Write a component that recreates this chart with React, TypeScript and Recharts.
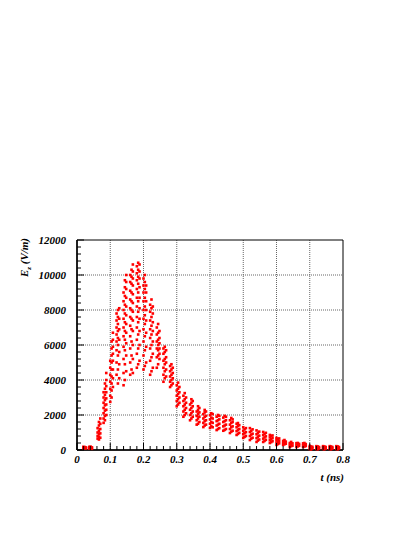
import { ScatterChart, Scatter, XAxis, YAxis, CartesianGrid, ReferenceArea, Label } from 'recharts';

// onset, t < 0.1 ns
const onsetTimes = [0.019, 0.023, 0.027, 0.037, 0.041, 0.045, 0.062, 0.066, 0.070, 0.080, 0.084, 0.088];
const onsetFields = [
	[80, 180], [100, 170], [90, 150], [80, 180], [110, 190], [70, 150],
	[650, 800, 1000, 1250],
	[600, 750, 900, 1100, 1400, 1600],
	[700, 950, 1200, 1500, 1800],
	[1550, 1800, 2100, 2400, 2700, 3000, 3300],
	[1700, 1950, 2250, 2550, 2850, 3150, 3500, 3800],
	[2000, 2300, 2600, 2950, 3300, 3650, 4000, 4400],
];

// main pulse
const peakTimes = [
	0.100, 0.104, 0.108, 0.119, 0.123, 0.127, 0.140, 0.144, 0.148,
	0.160, 0.164, 0.168, 0.180, 0.184, 0.188, 0.200, 0.204, 0.208,
	0.220, 0.224, 0.228, 0.240, 0.244, 0.248, 0.260, 0.264, 0.268,
];
const peakFields = [
	[2750, 3100, 3500, 3900, 4300, 4700, 5100],
	[3000, 3400, 3800, 4200, 4600, 5000, 5400, 5800, 6200],
	[3600, 4100, 4600, 5100, 5500, 5900, 6300, 6700],
	[4300, 5000, 5700, 6200, 6600, 7000, 7400, 7800],
	[3800, 4600, 5400, 6000, 6400, 6800, 7200, 7600, 8000],
	[4100, 4900, 5600, 6300, 6900, 7500, 8100],
	[3700, 4400, 5200, 5900, 6500, 7000, 7500, 8000, 8500, 9000],
	[4000, 4900, 5700, 6300, 6800, 7300, 7800, 8300, 8800, 9300, 9700],
	[4500, 5400, 6100, 6700, 7200, 7700, 8200, 8700, 9200, 9600, 10000],
	[4300, 5000, 5800, 6500, 7100, 7600, 8100, 8600, 9100, 9600, 10000],
	[4600, 5400, 6200, 6900, 7500, 8000, 8500, 9000, 9500, 9900, 10300],
	[4400, 5200, 6000, 6800, 7400, 7900, 8400, 8900, 9400, 9800, 10200, 10600],
	[4700, 5500, 6300, 7000, 7600, 8200, 8700, 9200, 9700, 10100, 10500],
	[4900, 5800, 6600, 7300, 7900, 8500, 9000, 9500, 9900, 10300, 10700],
	[5100, 6000, 6800, 7500, 8100, 8700, 9300, 9800, 10200, 10600],
	[4600, 5400, 6200, 6900, 7500, 8000, 8500, 9000, 9400, 9800],
	[4800, 5700, 6500, 7200, 7700, 8200, 8700, 9200, 9600, 10000],
	[5000, 5900, 6700, 7400, 8000, 8500, 9000, 9400],
	[4300, 5100, 5800, 6400, 6900, 7400, 7900, 8300],
	[4500, 5300, 6000, 6600, 7100, 7600, 8100, 8600],
	[4700, 5500, 6200, 6800, 7300, 7800, 8200],
	[4700, 5300, 5800, 6200, 6600, 7000],
	[4900, 5400, 5700, 6000, 6300, 6700, 7200],
	[5200, 5500, 5800, 6100, 6400, 6800],
	[3900, 4300, 4700, 5100, 5500, 5800],
	[4100, 4500, 4900, 5200, 5600, 5900],
	[4200, 4600, 5000, 5300, 5700],
];

// decay
const decayTimes = [
	0.280, 0.284, 0.288, 0.300, 0.304, 0.308, 0.320, 0.324, 0.328,
	0.340, 0.344, 0.348, 0.360, 0.364, 0.368, 0.380, 0.384, 0.388,
	0.400, 0.404, 0.408, 0.420, 0.424, 0.428, 0.440, 0.444, 0.448,
	0.460, 0.464, 0.468, 0.480, 0.484, 0.488,
];
const decayFields = [
	[3600, 3900, 4200, 4500, 4800], [3700, 4000, 4300, 4600, 4900], [3800, 4100, 4400, 4700],
	[2500, 2800, 3100, 3400, 3700], [2600, 2900, 3200, 3500, 3850], [2700, 3000, 3300, 3600],
	[1900, 2200, 2500, 2800, 3100], [2000, 2300, 2600, 2900, 3250], [2100, 2400, 2700, 3000],
	[1700, 2000, 2300, 2600], [1800, 2100, 2400, 2700, 2900], [1900, 2200, 2500, 2800],
	[1450, 1700, 1950, 2200], [1500, 1800, 2050, 2300, 2500], [1600, 1900, 2150, 2400],
	[1310, 1550, 1800, 2050], [1400, 1650, 1900, 2150, 2290], [1450, 1700, 1950, 2200],
	[1260, 1500, 1750, 2000], [1350, 1600, 1850, 2100], [1300, 1550, 1800, 2050],
	[1140, 1400, 1650, 1900], [1200, 1450, 1700, 2000], [1250, 1500, 1750, 1950],
	[1100, 1350, 1600, 1850], [1150, 1400, 1650, 1950], [1200, 1450, 1700, 1900],
	[970, 1200, 1450, 1700], [1050, 1300, 1550, 1830], [1100, 1350, 1600, 1750],
	[860, 1080, 1300, 1500], [920, 1150, 1380, 1540], [980, 1200, 1420],
];

// tail
const tailTimes = [
	0.500, 0.504, 0.508, 0.520, 0.524, 0.528, 0.540, 0.544, 0.548,
	0.560, 0.564, 0.568, 0.580, 0.584, 0.588, 0.600, 0.604, 0.608,
	0.620, 0.624, 0.628, 0.640, 0.644, 0.648, 0.660, 0.664, 0.668,
	0.680, 0.684, 0.688, 0.700, 0.704, 0.708, 0.720, 0.724, 0.728,
	0.740, 0.744, 0.748, 0.760, 0.764, 0.768, 0.780, 0.784, 0.788,
];
const tailFields = [
	[690, 900, 1100, 1300], [750, 960, 1180], [800, 1020, 1250],
	[570, 800, 1030, 1250], [650, 880, 1100], [700, 930, 1180],
	[460, 680, 900, 1120], [540, 760, 980], [600, 820, 1050],
	[460, 650, 850, 1030], [520, 720, 920], [580, 780, 980],
	[400, 560, 720, 860], [450, 620, 800], [500, 680, 830],
	[290, 430, 570, 690], [340, 480, 630], [380, 520, 660],
	[290, 400, 520], [330, 450, 570], [360, 480],
	[170, 290, 400], [220, 340, 460], [250, 380],
	[170, 280, 390], [210, 320, 400], [240, 350],
	[170, 270, 380], [200, 310, 400], [230, 340],
	[60, 150, 230], [30, 120, 200], [90, 180],
	[60, 150, 220], [40, 130, 200], [80, 170],
	[60, 150, 220], [40, 130, 200], [80, 170],
	[60, 150, 220], [40, 130, 200], [80, 170],
	[60, 150, 220], [40, 130, 200], [80, 170],
];

const xTicks = [
	0, 0.02, 0.04, 0.06, 0.08, 0.1, 0.12, 0.14, 0.16, 0.18, 0.2, 0.22, 0.24, 0.26, 0.28,
	0.3, 0.32, 0.34, 0.36, 0.38, 0.4, 0.42, 0.44, 0.46, 0.48, 0.5, 0.52, 0.54, 0.56, 0.58,
	0.6, 0.62, 0.64, 0.66, 0.68, 0.7, 0.72, 0.74, 0.76, 0.78, 0.8,
];
const yTicks = [
	0, 400, 800, 1200, 1600, 2000, 2400, 2800, 3200, 3600, 4000, 4400, 4800, 5200, 5600, 6000,
	6400, 6800, 7200, 7600, 8000, 8400, 8800, 9200, 9600, 10000, 10400, 10800, 11200, 11600, 12000,
];
const xGrid = [0.1, 0.2, 0.3, 0.4, 0.5, 0.6, 0.7];
const yGrid = [2000, 4000, 6000, 8000, 10000];

function toPoints(times: number[], fields: number[][]) {
	const pts: { t: number; e: number }[] = [];
	times.forEach((t, i) => fields[i].forEach((e) => pts.push({ t, e })));
	return pts;
}

const points = [
	...toPoints(onsetTimes, onsetFields),
	...toPoints(peakTimes, peakFields),
	...toPoints(decayTimes, decayFields),
	...toPoints(tailTimes, tailFields),
];

const labelFont = {
	fontFamily: '"Liberation Serif", "Times New Roman", serif',
	fontWeight: 'bold',
	fontStyle: 'italic',
	fontSize: 11,
	fill: '#000',
};

// ticks drawn inward like the original, labels only on major ones
const XTick = (props: any) => {
	const { x, y, payload } = props;
	const v = payload.value;
	const major = Math.round(v * 100) % 10 === 0;
	return (
		<g>
			<line x1={x} x2={x} y1={y} y2={y - (major ? 7 : 4)} stroke="#000" />
			{major && (
				<text x={x} y={y + 13} textAnchor="middle" style={labelFont}>
					{v === 0 ? '0' : v.toFixed(1)}
				</text>
			)}
		</g>
	);
};

const YTick = (props: any) => {
	const { x, y, payload } = props;
	const v = payload.value;
	const major = v % 2000 === 0;
	return (
		<g>
			<line x1={x} x2={x + (major ? 7 : 4)} y1={y} y2={y} stroke="#000" />
			{major && (
				<text x={x - 11} y={y + 4} textAnchor="end" style={labelFont}>
					{v}
				</text>
			)}
		</g>
	);
};

const YTitle = (props: any) => {
	const { viewBox } = props;
	const x = viewBox.x + 28;
	const y = viewBox.y - 2;
	return (
		<text x={x} y={y} textAnchor="end" transform={`rotate(-90, ${x}, ${y})`} style={labelFont}>
			E
			<tspan dy={3} fontSize={7}>z</tspan>
			<tspan dy={-3}> (V/m)</tspan>
		</text>
	);
};

const XTitle = (props: any) => {
	const { viewBox } = props;
	return (
		<text x={viewBox.x + viewBox.width + 1} y={viewBox.y + 31} textAnchor="end" style={labelFont}>
			t (ns)
		</text>
	);
};

const Dot = (props: any) => {
	const { cx, cy } = props;
	return <rect x={cx - 1.3} y={cy - 1.3} width={2.6} height={2.6} fill="#ff0000" />;
};

export default function App() {
	return (
		<div style={{ position: 'absolute', left: 0, top: 0, width: 415, height: 537, background: '#fff' }}>
			<ScatterChart width={415} height={537} margin={{ top: 240, right: 72, bottom: 0, left: 0 }}>
				<CartesianGrid
					stroke="#666"
					strokeDasharray="1 1"
					verticalValues={xGrid}
					horizontalValues={yGrid}
				/>
				<XAxis
					type="number"
					dataKey="t"
					domain={[0, 0.8]}
					ticks={xTicks}
					interval={0}
					height={87}
					tickSize={0}
					tickMargin={0}
					tickLine={false}
					tick={<XTick />}
					axisLine={{ stroke: '#000', strokeWidth: 1.5 }}
				>
					<Label content={<XTitle />} />
				</XAxis>
				<YAxis
					type="number"
					dataKey="e"
					domain={[0, 12000]}
					ticks={yTicks}
					interval={0}
					width={77}
					tickSize={0}
					tickMargin={0}
					tickLine={false}
					tick={<YTick />}
					axisLine={{ stroke: '#000', strokeWidth: 1.5 }}
				>
					<Label content={<YTitle />} />
				</YAxis>
				<ReferenceArea x1={0} x2={0.8} y1={0} y2={12000} fill="none" stroke="#000" strokeWidth={1} />
				<Scatter data={points} shape={<Dot />} isAnimationActive={false} />
			</ScatterChart>
		</div>
	);
}
